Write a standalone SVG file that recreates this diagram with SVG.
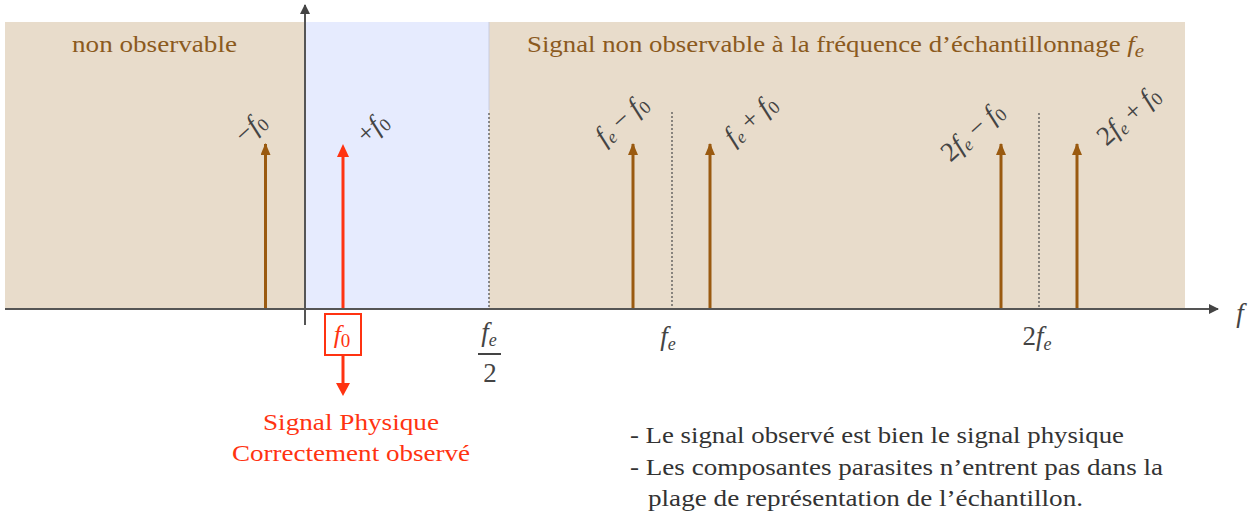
<svg xmlns="http://www.w3.org/2000/svg" width="1251" height="519" viewBox="0 0 1251 519" font-family="'Liberation Serif','Times New Roman',Tinos,Times,serif">
<defs>
<style>
text{font-family:'Liberation Serif','Times New Roman',Tinos,Times,serif;}
.brownt{fill:#8B5A1E;font-size:23px;}
.math{fill:#444;font-size:27px;}
.it{font-style:italic;}
.sub{font-size:18px;}
.spike{stroke:#9A5A10;stroke-width:3;fill:none;}
.dot{stroke:#555;stroke-width:1.3;stroke-dasharray:2,2;fill:none;}
.axis{stroke:#555;stroke-width:2;fill:none;}
.red{fill:#FF3311;}
.body{fill:#333;font-size:23px;}
</style>
<marker id="ab" markerWidth="12" markerHeight="10" refX="11" refY="5" orient="auto" markerUnits="userSpaceOnUse" viewBox="0 0 12 10"><path d="M0,0 L12,5 L0,10 Z" fill="#9A5A10"/></marker>
<marker id="ax" markerWidth="10" markerHeight="10" refX="9" refY="5" orient="auto" markerUnits="userSpaceOnUse" viewBox="0 0 10 10"><path d="M0,0 L10,5 L0,10 Z" fill="#444"/></marker>
</defs>
<g id="background">
<rect x="5" y="22" width="1180" height="287" fill="#E8DCCB"/>
<rect x="305" y="22" width="184" height="287" fill="#E6EBFE"/>
<line x1="489" y1="22" x2="489" y2="110" stroke="#C9CCE0" stroke-width="1"/>
</g>
<g id="connectors">
<line class="axis" x1="5" y1="309" x2="1218" y2="309" marker-end="url(#ax)"/>
<line class="axis" x1="305" y1="325" x2="305" y2="5" marker-end="url(#ax)"/>
<line class="dot" x1="489" y1="113" x2="489" y2="308"/>
<line class="dot" x1="672" y1="112" x2="672" y2="308"/>
<line class="dot" x1="1039" y1="113" x2="1039" y2="308"/>
<line class="spike" x1="265.5" y1="308" x2="265.5" y2="144" marker-end="url(#ab)"/>
<line class="spike" x1="633" y1="308" x2="633" y2="144" marker-end="url(#ab)"/>
<line class="spike" x1="710" y1="308" x2="710" y2="144" marker-end="url(#ab)"/>
<line class="spike" x1="1001" y1="308" x2="1001" y2="144" marker-end="url(#ab)"/>
<line class="spike" x1="1077" y1="308" x2="1077" y2="144" marker-end="url(#ab)"/>
<line x1="343" y1="308" x2="343" y2="150" stroke="#FF3311" stroke-width="3"/>
<path class="red" d="M337,157 L343,144 L349,157 Z"/>
<line x1="343" y1="356" x2="343" y2="384" stroke="#FF3311" stroke-width="3"/>
<path class="red" d="M336,383 L343,396 L350,383 Z"/>
</g>
<g id="label-non-observable">
<text class="brownt" x="72" y="52" textLength="165" lengthAdjust="spacingAndGlyphs">non observable</text>
</g>
<g id="label-signal-non-observable">
<text class="brownt" x="527" y="52" textLength="617" lengthAdjust="spacingAndGlyphs">Signal non observable à la fréquence d’échantillonnage <tspan class="it">f</tspan><tspan class="it sub" dy="5">e</tspan></text>
</g>
<g id="label-minus-f0">
<text class="math" transform="translate(256,134) rotate(-42)" text-anchor="middle">−<tspan class="it">f</tspan><tspan class="sub" dy="4">0</tspan></text>
</g>
<g id="label-plus-f0">
<text class="math" transform="translate(378,134) rotate(-42)" text-anchor="middle">+<tspan class="it">f</tspan><tspan class="sub" dy="4">0</tspan></text>
</g>
<g id="label-fe-minus-f0">
<text class="math" transform="translate(627,126) rotate(-42)" text-anchor="middle"><tspan class="it">f</tspan><tspan class="it sub" dy="4">e</tspan><tspan dy="-4"> − </tspan><tspan class="it">f</tspan><tspan class="sub" dy="4">0</tspan></text>
</g>
<g id="label-fe-plus-f0">
<text class="math" transform="translate(756,126) rotate(-42)" text-anchor="middle"><tspan class="it">f</tspan><tspan class="it sub" dy="4">e</tspan><tspan dy="-4"> + </tspan><tspan class="it">f</tspan><tspan class="sub" dy="4">0</tspan></text>
</g>
<g id="label-2fe-minus-f0">
<text class="math" transform="translate(978,138) rotate(-42)" text-anchor="middle">2<tspan class="it">f</tspan><tspan class="it sub" dy="4">e</tspan><tspan dy="-4"> − </tspan><tspan class="it">f</tspan><tspan class="sub" dy="4">0</tspan></text>
</g>
<g id="label-2fe-plus-f0">
<text class="math" transform="translate(1134,122) rotate(-42)" text-anchor="middle">2<tspan class="it">f</tspan><tspan class="it sub" dy="4">e</tspan><tspan dy="-4"> + </tspan><tspan class="it">f</tspan><tspan class="sub" dy="4">0</tspan></text>
</g>
<g id="tick-f0">
<rect x="325" y="314" width="36" height="41" fill="none" stroke="#FF3311" stroke-width="2"/>
<text x="342" y="343" text-anchor="middle" fill="#FF3311" font-size="26"><tspan class="it">f</tspan><tspan font-size="19" dy="4">0</tspan></text>
</g>
<g id="tick-fe2">
<text class="math" x="489" y="341" text-anchor="middle" font-size="26"><tspan class="it">f</tspan><tspan class="it sub" dy="5">e</tspan></text>
<line x1="478" y1="354" x2="501" y2="354" stroke="#444" stroke-width="2"/>
<text class="math" x="490" y="382" text-anchor="middle" font-size="26">2</text>
</g>
<g id="tick-fe">
<text class="math" x="668" y="345" text-anchor="middle" font-size="26"><tspan class="it">f</tspan><tspan class="it sub" dy="5">e</tspan></text>
</g>
<g id="tick-2fe">
<text class="math" x="1037" y="345" text-anchor="middle" font-size="26">2<tspan class="it">f</tspan><tspan class="it sub" dy="5">e</tspan></text>
</g>
<g id="axis-label-f">
<text class="math it" x="1240" y="322" text-anchor="middle" font-size="28">f</text>
</g>
<g id="label-signal-physique">
<text x="351" y="430" text-anchor="middle" fill="#FF3311" font-size="23" textLength="176" lengthAdjust="spacingAndGlyphs">Signal Physique</text>
<text x="351" y="461" text-anchor="middle" fill="#FF3311" font-size="23" textLength="238" lengthAdjust="spacingAndGlyphs">Correctement observé</text>
</g>
<g id="notes">
<text class="body" x="630" y="443" textLength="494" lengthAdjust="spacingAndGlyphs">- Le signal observé est bien le signal physique</text>
<text class="body" x="630" y="475" textLength="533" lengthAdjust="spacingAndGlyphs">- Les composantes parasites n’entrent pas dans la</text>
<text class="body" x="648" y="506" textLength="435" lengthAdjust="spacingAndGlyphs">plage de représentation de l’échantillon.</text>
</g>
</svg>
